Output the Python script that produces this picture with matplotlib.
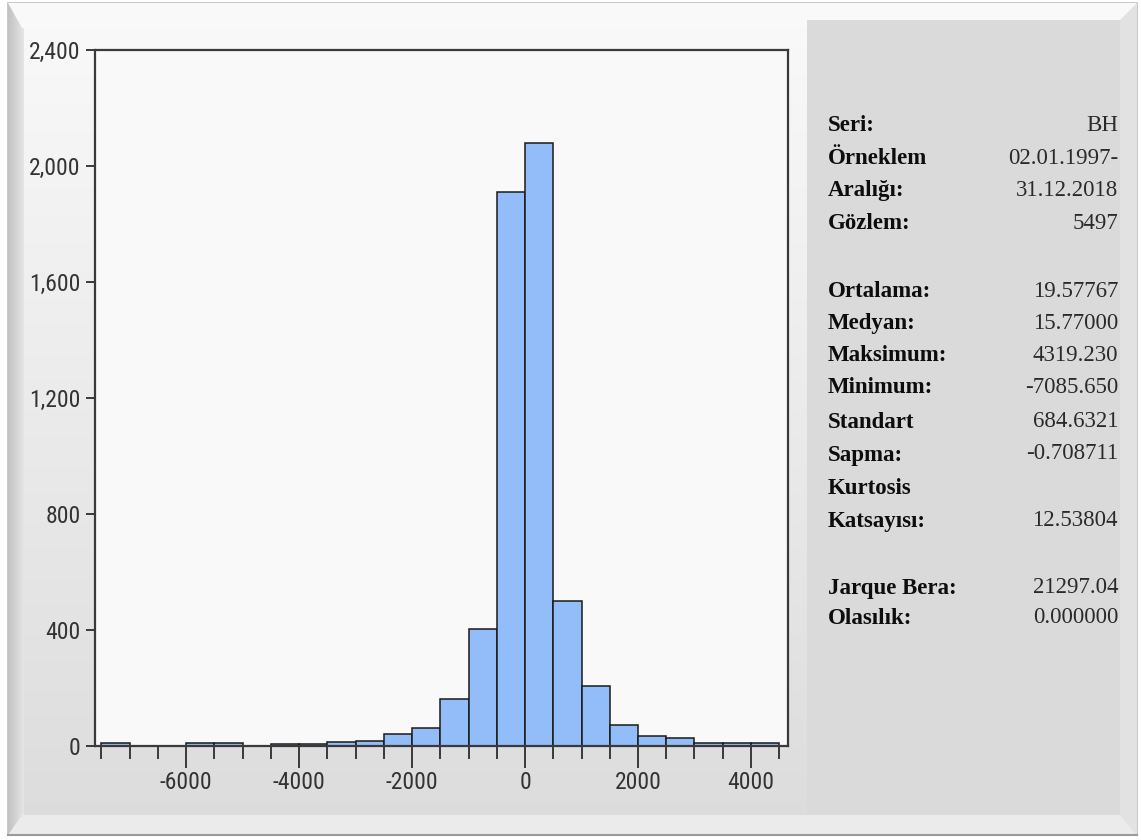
import numpy as np
import matplotlib
matplotlib.use("Agg")
import matplotlib.pyplot as plt
from matplotlib.patches import Rectangle, Polygon
from matplotlib.ticker import FixedLocator, FuncFormatter
from matplotlib import font_manager

# ---------------- data ----------------
bin_edges = list(range(-7500, 5000, 500))
counts = [10, 0, 0, 10, 10, 0, 8, 8, 15, 16, 40, 63, 162, 405,
          1910, 2080, 500, 208, 72, 35, 26, 10, 10, 10]
x_major = [-6000, -4000, -2000, 0, 2000, 4000]
y_ticks = [0, 400, 800, 1200, 1600, 2000, 2400]

stat_labels = ["Seri:", "Örneklem", "Aralığı:", "Gözlem:",
               "Ortalama:", "Medyan:", "Maksimum:", "Minimum:",
               "Standart", "Sapma:", "Kurtosis", "Katsayısı:",
               "Jarque Bera:", "Olasılık:"]
stat_values = ["BH", "02.01.1997-", "31.12.2018", "5497",
               "19.57767", "15.77000", "4319.230", "-7085.650",
               "684.6321", "-0.708711", "", "12.53804",
               "21297.04", "0.000000"]
label_rows_px = [124, 157, 189, 222, 290, 322, 354, 386, 421, 454, 487, 520, 587, 617]
value_rows_px = [124, 157, 189, 222, 290, 322, 354, 386, 420, 452, 487, 519, 586, 616]

# ---------------- fonts ----------------
available = {f.name for f in font_manager.fontManager.ttflist}
narrow_font = None
for cand in ["Liberation Sans Narrow", "DejaVu Sans Condensed", "Roboto Condensed",
             "Open Sans Condensed", "Liberation Sans"]:
    if cand in available:
        narrow_font = cand
        break
if narrow_font is None:
    narrow_font = "DejaVu Sans"
tick_size = 17 if narrow_font != "Liberation Sans" else 15.5

# ---------------- figure ----------------
W, H = 1141, 840
fig = plt.figure(figsize=(W / 100, H / 100), dpi=100, facecolor="white")

bg = fig.add_axes([0, 0, 1, 1], zorder=-10)
bg.set_xlim(0, W)
bg.set_ylim(H, 0)
bg.axis("off")

bg.add_patch(Rectangle((8, 3), 1129, 832, facecolor="#e6e6e6", edgecolor="#bdbdbd", lw=1.2))
grad = np.linspace(0, 1, 256).reshape(-1, 1)
c_top = np.array([0.975, 0.975, 0.975])
c_bot = np.array([0.865, 0.865, 0.865])
img = c_top + (c_bot - c_top) * grad[..., None]
img = np.repeat(img, 2, axis=1)
bg.imshow(img, extent=(22, 807, 815, 28), aspect="auto", interpolation="bilinear", zorder=1)
bg.add_patch(Polygon([(8, 3), (1137, 3), (1120, 28), (22, 28)], closed=True,
                     facecolor="#f9f9f9", edgecolor="none", zorder=2))
lg = np.linspace(0, 1, 64).reshape(1, -1)
limg = np.array([0.76, 0.76, 0.76]) + (np.array([0.90, 0.90, 0.90]) - np.array([0.76, 0.76, 0.76])) * lg[..., None]
limg = np.repeat(limg, 2, axis=0)
bg.imshow(limg, extent=(8, 24, 835, 3), aspect="auto", interpolation="bilinear", zorder=1.5)
bg.add_patch(Polygon([(22, 815), (1120, 815), (1137, 835), (8, 835)], closed=True,
                     facecolor="#ebebeb", edgecolor="none", zorder=2))
bg.add_patch(Rectangle((807, 20), 313, 795, facecolor="#dadada", edgecolor="none", zorder=2))
bg.add_patch(Polygon([(1120, 20), (1137, 3), (1137, 835), (1120, 815)], closed=True,
                     facecolor="#e2e2e2", edgecolor="none", zorder=2))
bg.plot([8, 1137], [835, 835], color="#9a9a9a", lw=1.5, zorder=3)

# ---------------- histogram axes ----------------
ax_l, ax_r, ax_t, ax_b = 95, 788, 50, 746
ax = fig.add_axes([ax_l / W, 1 - ax_b / H, (ax_r - ax_l) / W, (ax_b - ax_t) / H])
ax.set_facecolor("#f9f9f9")

widths = np.diff(bin_edges)
ax.bar(bin_edges[:-1], counts, width=widths, align="edge",
       color="#92bdf8", edgecolor="#1a1a1a", linewidth=1.1, zorder=2)

ax.set_xlim(-7611, 4655)
ax.set_ylim(0, 2400)

for s in ax.spines.values():
    s.set_color("#3a3a3a")
    s.set_linewidth(1.6)

ax.xaxis.set_major_locator(FixedLocator(x_major))
ax.xaxis.set_minor_locator(FixedLocator(bin_edges))
ax.yaxis.set_major_locator(FixedLocator(y_ticks))
ax.yaxis.set_major_formatter(FuncFormatter(lambda v, p: f"{v:,.0f}"))
ax.xaxis.set_major_formatter(FuncFormatter(lambda v, p: f"{v:.0f}"))

ax.tick_params(axis="x", which="major", direction="out", length=15.8, width=1.4,
               color="#3a3a3a", pad=2, labelsize=tick_size, labelcolor="#333333")
ax.tick_params(axis="x", which="minor", direction="out", length=9.4, width=1.4,
               color="#3a3a3a")
ax.tick_params(axis="y", which="major", direction="out", length=6.5, width=1.4,
               color="#3a3a3a", pad=4, labelsize=tick_size, labelcolor="#333333")
for lab in ax.get_xticklabels() + ax.get_yticklabels():
    lab.set_family([narrow_font, "DejaVu Sans"])

# ---------------- statistics panel ----------------
serif = ["Liberation Serif", "DejaVu Serif"]
for lab, y in zip(stat_labels, label_rows_px):
    fig.text(828 / W, 1 - (y + 7) / H, lab, family=serif, fontweight="bold",
             fontsize=16.5, color="#0d0d0d", ha="left", va="baseline")
for val, y in zip(stat_values, value_rows_px):
    if val:
        fig.text(1118 / W, 1 - (y + 7) / H, val, family=serif,
                 fontsize=16.5, color="#2a2a2a", ha="right", va="baseline")

fig.savefig("out.png", dpi=100, facecolor="white")
